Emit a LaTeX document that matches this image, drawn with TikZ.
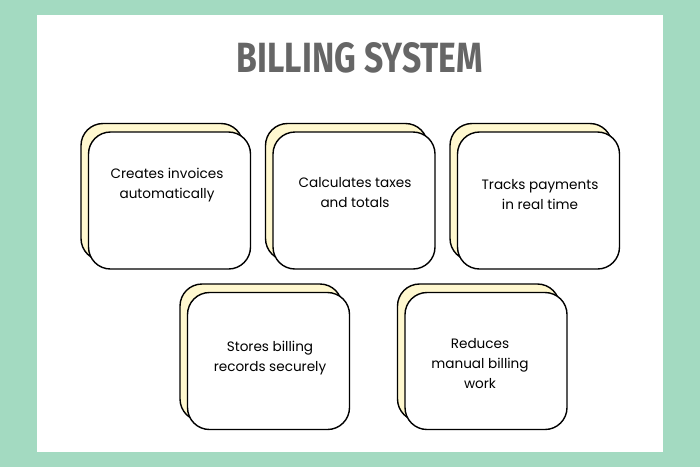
\documentclass[tikz,border=0pt]{standalone}
\usepackage{fontspec}
\setmainfont{Poppins}
\newfontfamily\titlefont{Fira Sans}
\definecolor{bggreen}{HTML}{A3DAC1}
\definecolor{cream}{HTML}{FFF8CF}
\definecolor{titlegray}{HTML}{666666}
\tikzset{
  backcard/.style={draw=black, line width=1.4pt, fill=cream, rounded corners=22pt, minimum width=162pt, minimum height=137pt, inner sep=0pt},
  frontcard/.style={draw=black, line width=1.4pt, fill=white, rounded corners=22pt, minimum width=162pt, minimum height=137pt, inner sep=0pt},
  cardtext/.style={align=center, font=\fontsize{13.6}{20}\selectfont, text=black, inner sep=0pt}
}
\begin{document}
\begin{tikzpicture}[x=1pt, y=-1pt]
\fill[bggreen] (0,0) rectangle (700,467);
\fill[white] (37,15) rectangle (663,452);
\useasboundingbox (0,0) rectangle (700,467);
\node[text=titlegray, inner sep=0pt] (title) at (360,58) {\resizebox{246pt}{30pt}{\titlefont\bfseries BILLING SYSTEM}};
% card 1
\node[backcard] (b1) at (162,192) {};
\node[frontcard] (f1) at (169.5,200.5) {};
\node[cardtext] (t1) at (167,185) {Creates invoices\\automatically};
% card 2
\node[backcard] (b2) at (346.5,192) {};
\node[frontcard] (f2) at (354,200.5) {};
\node[cardtext] (t2) at (355,193) {Calculates taxes\\and totals};
% card 3
\node[backcard] (b3) at (531,192) {};
\node[frontcard] (f3) at (538.5,200.5) {};
\node[cardtext] (t3) at (540,195) {Tracks payments\\in real time};
% card 4
\node[backcard] (b4) at (261,352.5) {};
\node[frontcard] (f4) at (268.5,361) {};
\node[cardtext] (t4) at (270,358) {Stores billing\\records securely};
% card 5
\node[backcard] (b5) at (478.5,352.5) {};
\node[frontcard] (f5) at (486,361) {};
\node[cardtext] (t5) at (480,364) {Reduces\\manual billing\\work};
\end{tikzpicture}
\end{document}
